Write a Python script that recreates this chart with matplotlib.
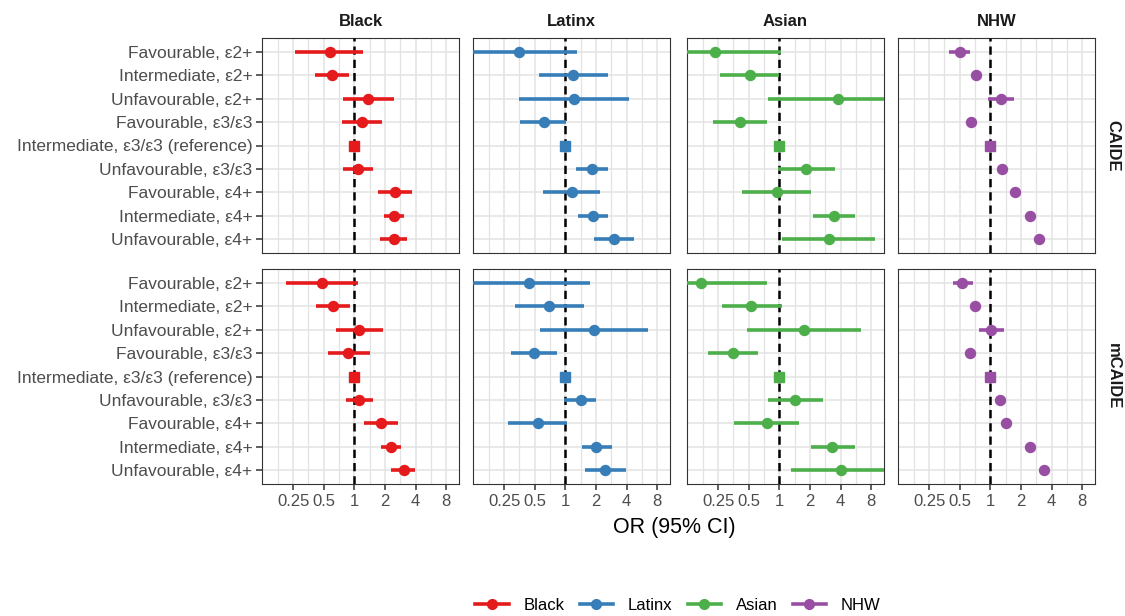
import numpy as np
import matplotlib
matplotlib.use("Agg")
from matplotlib import pyplot as plt
from matplotlib.lines import Line2D
from matplotlib.ticker import NullFormatter, FixedFormatter

plt.rcParams['font.family'] = ['Liberation Sans', 'DejaVu Sans']

rows = ['Favourable, ε2+', 'Intermediate, ε2+', 'Unfavourable, ε2+',
        'Favourable, ε3/ε3', 'Intermediate, ε3/ε3 (reference)', 'Unfavourable, ε3/ε3',
        'Favourable, ε4+', 'Intermediate, ε4+', 'Unfavourable, ε4+']
groups = ['Black', 'Latinx', 'Asian', 'NHW']
scores = ['CAIDE', 'mCAIDE']
colors = {'Black': '#E41A1C', 'Latinx': '#377EB8', 'Asian': '#4DAF4A', 'NHW': '#984EA3'}
ref_row = 4

# (OR, lower, upper) for each row, top to bottom
black_caide = [(0.57, 0.26, 1.21), (0.60, 0.41, 0.88), (1.37, 0.78, 2.48),
               (1.18, 0.75, 1.86), (1, 1, 1), (1.08, 0.77, 1.52),
               (2.52, 1.72, 3.68), (2.43, 1.95, 3.05), (2.45, 1.80, 3.31)]
latinx_caide = [(0.35, 0.09, 1.30), (1.19, 0.55, 2.60), (1.22, 0.35, 4.22),
                (0.61, 0.36, 1.02), (1, 1, 1), (1.83, 1.26, 2.60),
                (1.15, 0.60, 2.21), (1.87, 1.33, 2.64), (3.00, 1.90, 4.73)]
asian_caide = [(0.23, 0.08, 1.03), (0.51, 0.26, 0.99), (3.76, 0.77, 14.0),
               (0.41, 0.22, 0.76), (1, 1, 1), (1.82, 0.98, 3.49),
               (0.94, 0.43, 2.04), (3.44, 2.13, 5.50), (3.05, 1.05, 8.80)]
nhw_caide = [(0.50, 0.39, 0.63), (0.72, 0.67, 0.78), (1.26, 0.95, 1.70),
             (0.65, 0.61, 0.69), (1, 1, 1), (1.30, 1.22, 1.38),
             (1.74, 1.62, 1.87), (2.45, 2.32, 2.58), (3.00, 2.78, 3.25)]

black_mcaide = [(0.48, 0.21, 1.09), (0.61, 0.42, 0.91), (1.10, 0.66, 1.90),
                (0.87, 0.55, 1.41), (1, 1, 1), (1.10, 0.83, 1.52),
                (1.83, 1.24, 2.68), (2.30, 1.83, 2.85), (3.05, 2.30, 3.97)]
latinx_mcaide = [(0.44, 0.09, 1.74), (0.69, 0.32, 1.52), (1.90, 0.56, 6.50),
                 (0.49, 0.29, 0.83), (1, 1, 1), (1.41, 0.97, 1.99),
                 (0.54, 0.27, 1.04), (2.02, 1.46, 2.89), (2.45, 1.55, 3.94)]
asian_mcaide = [(0.17, 0.08, 0.76), (0.53, 0.27, 1.07), (1.75, 0.48, 6.35),
                (0.35, 0.20, 0.62), (1, 1, 1), (1.43, 0.78, 2.66),
                (0.75, 0.36, 1.56), (3.33, 2.04, 5.50), (4.03, 1.29, 14.0)]
nhw_mcaide = [(0.53, 0.43, 0.68), (0.71, 0.66, 0.77), (1.02, 0.77, 1.35),
              (0.63, 0.60, 0.67), (1, 1, 1), (1.24, 1.17, 1.31),
              (1.43, 1.35, 1.52), (2.43, 2.30, 2.57), (3.36, 3.12, 3.62)]

data = {
    ('CAIDE', 'Black'): black_caide, ('CAIDE', 'Latinx'): latinx_caide,
    ('CAIDE', 'Asian'): asian_caide, ('CAIDE', 'NHW'): nhw_caide,
    ('mCAIDE', 'Black'): black_mcaide, ('mCAIDE', 'Latinx'): latinx_mcaide,
    ('mCAIDE', 'Asian'): asian_mcaide, ('mCAIDE', 'NHW'): nhw_mcaide,
}

W, H = 1125, 616
fig = plt.figure(figsize=(W / 100, H / 100), dpi=100)

col_left = [262, 473, 687, 898]
panel_w = 197
row_top = [38, 269]
panel_h = 215

major = [0.25, 0.5, 1, 2, 4, 8]
major_labels = ['0.25', '0.5', '1', '2', '4', '8']
minor = [2 ** (k + 0.5) for k in range(-4, 4)]
ypos = np.arange(len(rows))

for r, score in enumerate(scores):
    for c, grp in enumerate(groups):
        ax = fig.add_axes([col_left[c] / W, 1 - (row_top[r] + panel_h) / H,
                           panel_w / W, panel_h / H])
        ax.set_xscale('log', base=2)
        ax.set_xticks(major)
        ax.set_xticks(minor, minor=True)
        ax.xaxis.set_minor_formatter(NullFormatter())
        ax.set_yticks(ypos)
        # limits after the ticks, so the minor ticks do not widen the view
        ax.set_xlim(2 ** -3.02, 2 ** 3.42)
        ax.set_ylim(8.6, -0.6)
        ax.grid(which='major', color='#E3E3E3', lw=1.1, zorder=0)
        ax.grid(which='minor', axis='x', color='#E3E3E3', lw=0.9, zorder=0)
        ax.set_axisbelow(True)
        for s in ax.spines.values():
            s.set_color('#333333')
            s.set_linewidth(0.8)
        ax.tick_params(which='minor', length=0)
        ax.tick_params(which='major', color='#333333', length=4, width=1.1,
                       labelcolor='#4D4D4D')
        ax.tick_params(axis='y', labelsize=12.5, pad=3)
        ax.tick_params(axis='x', labelsize=12, pad=3)

        if r == 0:
            ax.tick_params(axis='x', which='major', length=0, labelbottom=False)
        else:
            ax.xaxis.set_major_formatter(FixedFormatter(major_labels))
        if c == 0:
            ax.set_yticklabels(rows)
        else:
            ax.tick_params(axis='y', length=0, labelleft=False)

        ax.axvline(1, color='black', lw=1.8, ls=(0, (3.3, 2.0)), zorder=3)

        col = colors[grp]
        vals = data[(score, grp)]
        for i, (est, lo, hi) in enumerate(vals):
            if i == ref_row:
                ax.plot(est, i, marker='s', ms=6.5, color=col, zorder=4)
            else:
                ax.plot([lo, hi], [i, i], color=col, lw=2.6,
                        solid_capstyle='butt', zorder=4)
                ax.plot(est, i, marker='o', ms=7.2, color=col, zorder=5)

        if r == 0:
            fig.text((col_left[c] + panel_w / 2) / W, 1 - 21 / H, grp,
                     ha='center', va='center', fontsize=12, fontweight='bold',
                     color='#1A1A1A')
    fig.text(1113 / W, 1 - (row_top[r] + panel_h / 2) / H, score,
             ha='center', va='center', rotation=270, fontsize=12,
             fontweight='bold', color='#1A1A1A')

fig.text(674 / W, 1 - 528 / H, 'OR (95% CI)', ha='center', va='center',
         fontsize=15.5, color='black')

handles = [Line2D([0], [0], color=colors[g], lw=2.6, marker='o', ms=7)
           for g in groups]
fig.legend(handles, groups, loc='center', bbox_to_anchor=(678 / W, 1 - 605 / H),
           ncol=4, frameon=False, fontsize=12, handlelength=2.0,
           columnspacing=0.9, handletextpad=0.9)

fig.savefig('out.png', dpi=100)
